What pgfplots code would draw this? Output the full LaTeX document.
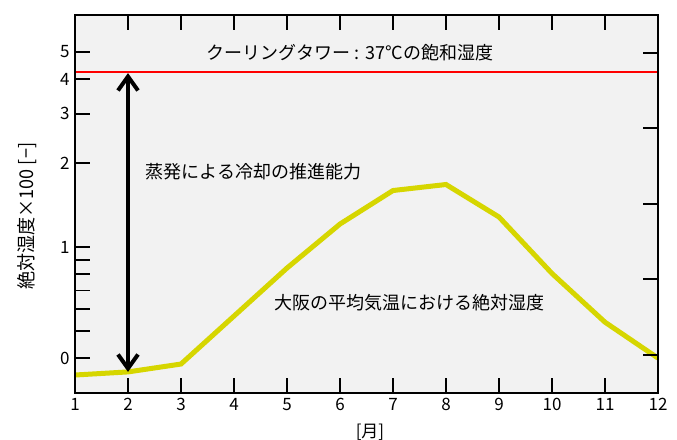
\documentclass[border=0pt]{standalone}
\usepackage{fontspec}
\setmainfont{Noto Sans CJK JP}
\usepackage{graphicx}
\usepackage{pgfplots}
\pgfplotsset{compat=1.18}
\usetikzlibrary{arrows.meta,calc}
\definecolor{bgc}{RGB}{242,242,242}
\definecolor{yel}{RGB}{214,214,0}
\pgfplotstableread{
m v
1 0.348
2 0.357
3 0.381
4 0.566
5 0.841
6 1.209
7 1.594
8 1.675
9 1.281
10 0.804
11 0.538
12 0.400
}\osaka
\begin{document}
\begin{tikzpicture}
\begin{axis}[
  name=ax,
  scale only axis,
  width=583pt, height=378pt,
  ymode=log,
  xmin=1, xmax=12,
  ymin=0.30, ymax=6.78,
  axis background/.style={fill=bgc},
  axis line style={line width=1.8pt, black},
  xtick={1,...,12},
  xtick pos=both,
  ytick={0.4,1,2,3,4,5},
  yticklabels={0,1,2,3,4,5},
  minor ytick={0.5,0.6,0.7,0.8,0.9},
  ytick pos=left,
  tick align=inside,
  major tick length=15pt,
  minor tick length=15pt,
  every tick/.style={line width=1.4pt, black},
  /pgf/number format/assume math mode=true,
  tick label style={font=\fontsize{17}{20}\selectfont},
  xticklabel style={yshift=-2pt},
  yticklabel style={xshift=-2pt},
  xlabel={[月]},
  xlabel style={font=\fontsize{17}{20}\selectfont, at={(axis description cs:0.506,0)}, anchor=center, yshift=-39pt},
  ylabel={\scalebox{0.95}[1]{絶対湿度×100 [−]}},
  ylabel style={font=\fontsize{19}{22}\selectfont, at={(axis description cs:-0.0823,0.468)}, anchor=center},
  clip=true,
]
\addplot[red, line width=2pt] coordinates {(1,4.24) (12,4.24)};
\addplot[yel, line width=5pt, line join=miter] table[x=m, y=v] {\osaka};
\draw[line width=4pt, black, {Straight Barb[length=14pt,width=20pt]}-{Straight Barb[length=14pt,width=20pt]}] (axis cs:2,4.2) -- (axis cs:2,0.357);
\node[font=\fontsize{18}{20}\selectfont, anchor=center] at (axis cs:6.19,4.95) {クーリングタワー : 37°Cの飽和湿度};
\node[font=\fontsize{18}{20}\selectfont, anchor=center] at (axis cs:4.37,1.857) {蒸発による冷却の推進能力};
\node[font=\fontsize{18}{20}\selectfont, anchor=center] at (axis cs:7.32,0.630) {大阪の平均気温における絶対湿度};
\end{axis}
\begin{axis}[
  at={(ax.south west)}, anchor=south west,
  scale only axis,
  width=583pt, height=378pt,
  xmin=0, xmax=1, ymin=0, ymax=378,
  axis line style={line width=1.8pt, black},
  xtick=\empty,
  ytick={38,114,189,265,340},
  yticklabels={},
  ytick pos=right,
  tick align=inside,
  major tick length=15pt,
  every tick/.style={line width=1.4pt, black},
]
\end{axis}
\pgfresetboundingbox
\path[use as bounding box] ($(ax.south west)+(-75pt,-46pt)$) rectangle ($(ax.north east)+(19pt,15pt)$);
\end{tikzpicture}
\end{document}
